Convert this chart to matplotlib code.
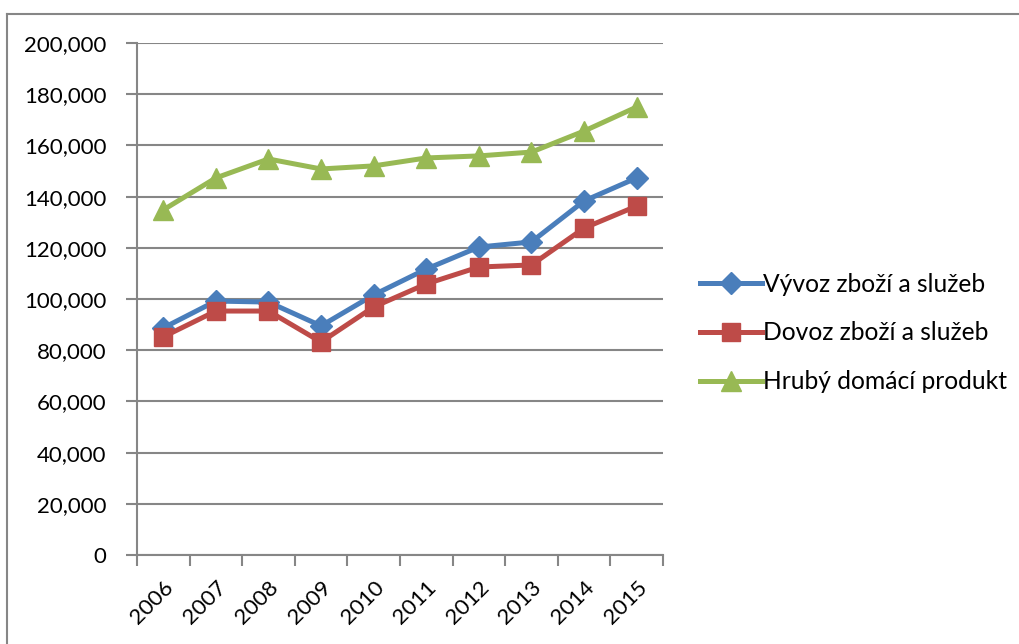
import numpy as np
import matplotlib.pyplot as plt
from matplotlib.lines import Line2D

plt.rcParams['font.family'] = ['Lato', 'DejaVu Sans']

years = ['2006', '2007', '2008', '2009', '2010', '2011', '2012', '2013', '2014', '2015']
vyvoz = [88700, 99200, 98800, 89500, 101600, 111700, 120300, 122300, 138300, 147300]
dovoz = [85200, 95300, 95300, 83200, 96900, 105900, 112500, 113300, 127700, 136300]
hdp = [134800, 147300, 154700, 150800, 152000, 155100, 155900, 157400, 165600, 175000]

fig = plt.figure(figsize=(10.19, 6.44), dpi=100)
ax = fig.add_axes([0.1344, 0.1382, 0.5162, 0.795])

x = np.arange(len(years)) + 0.5
ax.plot(x, vyvoz, color='#4A7EBB', lw=3.6, marker='D', ms=11, label='Vývoz zboží a služeb')
ax.plot(x, dovoz, color='#BE4B48', lw=3.6, marker='s', ms=13, label='Dovoz zboží a služeb')
ax.plot(x, hdp, color='#98B954', lw=3.6, marker='^', ms=14, label='Hrubý domácí produkt')

ax.set_xlim(0, 10)
ax.set_ylim(0, 200000)
ax.set_yticks(np.arange(0, 200001, 20000))
ax.set_yticklabels(['0'] + ['{:,}'.format(v) for v in range(20000, 200001, 20000)])
ax.set_xticks(np.arange(0, 11))
ax.set_xticklabels([])
ax.set_xticks(x, minor=True)
ax.set_xticklabels(years, minor=True, rotation=45, ha='right', rotation_mode='anchor')
ax.tick_params(axis='x', which='minor', length=0, pad=16, labelsize=16)
ax.tick_params(axis='x', which='major', length=8, width=1.5, color='#868686', direction='out')
ax.tick_params(axis='y', length=8, width=1.5, color='#868686', labelsize=16, pad=14)

ax.grid(axis='y', color='#868686', lw=1.5)
ax.set_axisbelow(True)
for s in ['top', 'right']:
    ax.spines[s].set_visible(False)
for s in ['left', 'bottom']:
    ax.spines[s].set_color('#868686')
    ax.spines[s].set_linewidth(1.5)

fig.legend(loc='center left', bbox_to_anchor=(0.687, 0.483), frameon=False,
           fontsize=17.7, handlelength=2.5, handletextpad=0.05, labelspacing=1.05,
           borderpad=0, borderaxespad=0)

# outer frame (only top and left edges visible in the crop)
fig.add_artist(Line2D([7 / 1019, 7 / 1019], [0, 1 - 14 / 644], transform=fig.transFigure,
                      color='#868686', lw=1.5))
fig.add_artist(Line2D([7 / 1019, 1], [1 - 14 / 644, 1 - 14 / 644], transform=fig.transFigure,
                      color='#868686', lw=1.5))

fig.savefig('out.png', dpi=100)
